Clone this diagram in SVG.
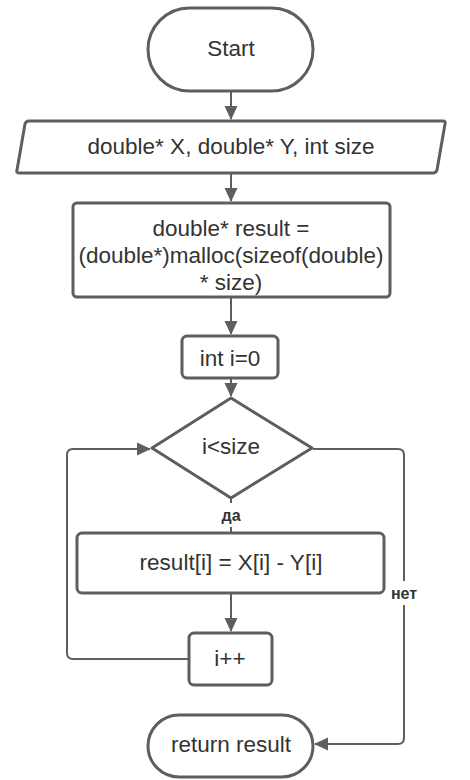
<svg xmlns="http://www.w3.org/2000/svg" width="470" height="780" viewBox="0 0 470 780">
<style>
.s{fill:#fff;stroke:#5e5e5e;stroke-width:3;stroke-linejoin:round}
.t{font-family:"Liberation Sans",Arial,sans-serif;font-size:22.5px;fill:#333;text-anchor:middle;dominant-baseline:central}
.l{font-family:"Liberation Sans",Arial,sans-serif;font-size:16px;font-weight:bold;fill:#333;text-anchor:middle;dominant-baseline:central}
.c{fill:none;stroke:#5e5e5e;stroke-width:2}
</style>
<defs>
<marker id="a" viewBox="0 0 14 14" refX="13" refY="7" markerWidth="14" markerHeight="14" markerUnits="userSpaceOnUse" orient="auto">
<path d="M0,0.5 L14,7 L0,13.5 z" fill="#5e5e5e"/>
</marker>
</defs>
<rect width="470" height="780" fill="#fff"/>
<g id="connectors">
<path class="c" d="M231,92 V119" marker-end="url(#a)"/>
<path class="c" d="M231,174 V201" marker-end="url(#a)"/>
<path class="c" d="M231,298 V334" marker-end="url(#a)"/>
<path class="c" d="M231,379 V396" marker-end="url(#a)"/>
<path class="c" d="M231,499 V503 M231,527 V533"/>
<path class="c" d="M231,594 V631" marker-end="url(#a)"/>
<path class="c" d="M189,659 H73 Q67,659 67,653 V455 Q67,449 73,449 H150" marker-end="url(#a)"/>
<path class="c" d="M313,449 H398 Q404,449 404,455 V581 M404,605 V738 Q404,744 398,744 H315" marker-end="url(#a)"/>
</g>
<g id="start"><rect class="s" x="148" y="8" width="165" height="83" rx="41.5"/><text class="t" x="231" y="48">Start</text></g>
<g id="input"><path class="s" d="M29,121 H443 Q446,121 445,124 L437,170 Q436,173 433,173 H19 Q16,173 17,170 L25,124 Q26,121 29,121 z"/><text class="t" x="231" y="146">double* X, double* Y, int size</text></g>
<g id="alloc"><rect class="s" x="73" y="203" width="317" height="94" rx="4"/><text class="t" x="231" y="228">double* result =</text><text class="t" x="231" y="255">(double*)malloc(sizeof(double)</text><text class="t" x="231" y="282">* size)</text></g>
<g id="init"><rect class="s" x="182" y="336" width="96" height="42" rx="5"/><text class="t" x="230" y="358">int i=0</text></g>
<g id="cond"><path class="s" d="M231,398 L312,448 L231,498 L152,448 z"/><text class="t" x="231" y="446">i&lt;size</text></g>
<g id="body"><rect class="s" x="77" y="533" width="307" height="60" rx="5"/><text class="t" x="231" y="562">result[i] = X[i] - Y[i]</text></g>
<g id="inc"><rect class="s" x="189" y="633" width="83" height="52" rx="5"/><text class="t" x="230" y="658">i++</text></g>
<g id="ret"><rect class="s" x="148" y="715" width="165" height="62" rx="31"/><text class="t" x="231" y="744">return result</text></g>
<g id="labels"><text class="l" x="231" y="515">да</text><text class="l" x="404" y="593">нет</text></g>
</svg>
